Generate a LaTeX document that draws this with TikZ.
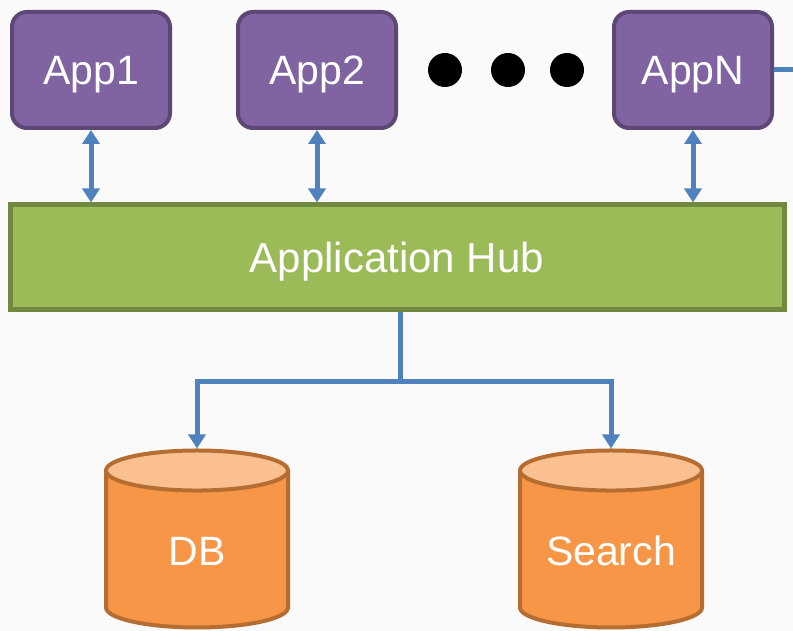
\documentclass[tikz,border=0pt]{standalone}
\usepackage{fontspec}
\setmainfont{Liberation Sans}
\usetikzlibrary{positioning, arrows.meta, shapes.geometric}
\definecolor{appfill}{HTML}{8064A2}
\definecolor{appline}{HTML}{5C4776}
\definecolor{hubfill}{HTML}{9BBB59}
\definecolor{hubline}{HTML}{71893F}
\definecolor{storefill}{HTML}{F79646}
\definecolor{storetop}{HTML}{FAC090}
\definecolor{storeline}{HTML}{B66D31}
\definecolor{linkblue}{HTML}{4F81BD}
\definecolor{bgcol}{HTML}{FAFAFA}

\tikzset{
  big/.style={text=white, font=\fontsize{41}{48}\selectfont, text height=40pt, text depth=10pt},
  app/.style={big, draw=appline, fill=appfill, line width=4pt, rounded corners=15pt,
    minimum width=158pt, minimum height=116pt, inner sep=0pt},
  hub/.style={big, font=\fontsize{42}{48}\selectfont, draw=hubline, fill=hubfill, line width=5pt,
    minimum width=774pt, minimum height=105pt, inner sep=0pt},
  store/.style={big, cylinder, shape border rotate=90, draw=storeline, line width=4pt,
    cylinder uses custom fill, cylinder body fill=storefill, cylinder end fill=storetop,
    text width=182pt, align=center, aspect=0.22, minimum height=177pt, inner sep=0pt},
  dot/.style={circle, fill=black, minimum size=34pt, inner sep=0pt},
  link/.style={draw=linkblue, line width=5pt},
  tip/.style={-{Triangle[width=17pt, length=14pt]}},
  tips/.style={{Triangle[width=17pt, length=14pt]}-{Triangle[width=17pt, length=14pt]}}
}

\begin{document}
\begin{tikzpicture}[x=1pt, y=-1pt]
  \fill[bgcol] (0,0) rectangle (793,631);
  \useasboundingbox (0,0) rectangle (793,631);
  \node[app] (app1) at (91,70) {App1};
  \node[app, right=64pt of app1] (app2) {App2};
  \node[dot] (dot1) at (445,70) {};
  \node[dot] (dot2) at (508,70) {};
  \node[dot] (dot3) at (567,70) {};
  \node[app] (appN) at (693,70) {AppN};
  \node[hub] (hub) at (397,257.5) {Application Hub};
  \node[store] (db) at (197,550) {DB};
  \node[store] (search) at (611,550) {Search};
  \coordinate (split) at (400,381);
  \coordinate (exit) at (795,70);
  \draw[link, tips] (app1.south) -- (app1.south |- hub.north);
  \draw[link, tips] (app2.south) -- (app2.south |- hub.north);
  \draw[link, tips] (appN.south) -- (appN.south |- hub.north);
  \draw[link] (appN.east) -- (exit);
  \draw[link] (split |- hub.south) -- (split);
  \draw[link, tip] (split) -| (db.top);
  \draw[link, tip] (split) -| (search.top);
\end{tikzpicture}
\end{document}
